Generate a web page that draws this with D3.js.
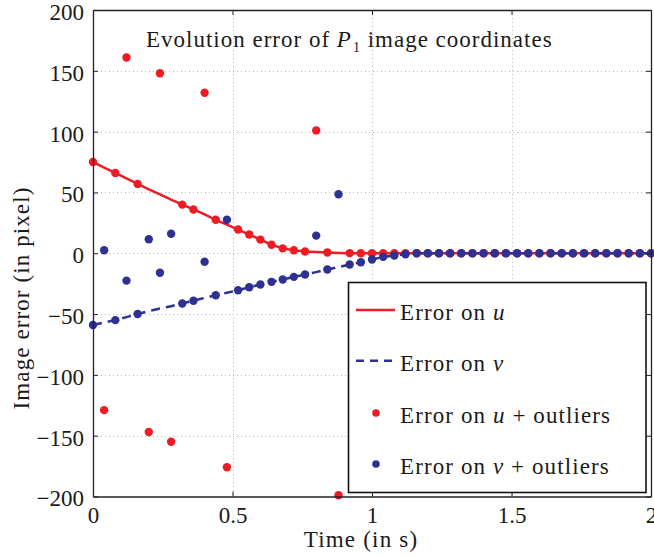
<!DOCTYPE html>
<html><head><meta charset="utf-8">
<script src="https://cdn.jsdelivr.net/npm/d3@7"></script>
<style>
html,body{margin:0;padding:0;background:#fff;}
svg{display:block;font-family:"Liberation Serif","Times New Roman",serif;}
</style></head>
<body><svg id="chart" width="654" height="558"></svg>
<script>
// ---- data ----
const time = [0,0.04,0.08,0.12,0.16,0.2,0.24,0.28,0.32,0.36,0.4,0.44,0.48,0.52,0.56,0.6,0.64,0.68,0.72,0.76,0.8,0.84,0.88,0.92,0.96,1.0,1.04,1.08,1.12,1.16,1.2,1.24,1.28,1.32,1.36,1.4,1.44,1.48,1.52,1.56,1.6,1.64,1.68,1.72,1.76,1.8,1.84,1.88,1.92,1.96,2.0];
const errorU = [75,70.5,66,61.5,57,52.5,48.5,44,40,36,32,27.5,23.5,19.5,15.4,11.2,7,4,2.5,1.4,1,0.6,0.3,0.1,0,0,0,0,0,0,0,0,0,0,0,0,0,0,0,0,0,0,0,0,0,0,0,0,0,0,0];
const errorV = [-59,-57,-55,-52.5,-50,-47.5,-45.5,-43.5,-41.3,-39,-36.7,-34.5,-32.5,-30.4,-28,-25.7,-23.5,-21.6,-19.4,-17.5,-15.5,-13.4,-11.3,-9.3,-7.4,-5.2,-3,-1.9,-0.8,0,0,0,0,0,0,0,0,0,0,0,0,0,0,0,0,0,0,0,0,0,0];
const errorUOutliers = [75,-129,66,161,57,-147,148,-155,40,36,132,27.5,-176,19.5,15.4,11.2,7,4,2.5,1.4,101,0.6,-199,0.1,0,0,0,0,0,0,0,0,0,0,0,0,0,0,0,0,0,0,0,0,0,0,0,0,0,0,0];
const errorVOutliers = [-59,2.5,-55,-22.5,-50,11.5,-16,16,-41.3,-39,-7,-34.5,27.5,-30.4,-28,-25.7,-23.5,-21.6,-19.4,-17.5,14.5,-13.4,48.5,-9.3,-7.4,-5.2,-3,-1.9,-0.8,0,0,0,0,0,0,0,0,0,0,0,0,0,0,0,0,0,0,0,0,0,0];
const xTicks = [0,0.5,1,1.5,2];
const yTicks = [-200,-150,-100,-50,0,50,100,150,200];
const legendLabels = [["Error on ","u",""],["Error on ","v",""],["Error on ","u"," + outliers"],["Error on ","v"," + outliers"]];

// ---- layout ----
const RED = "#ed1c24", BLUE = "#2e3192", INK = "#1a1a1a";
const FONT = "'Liberation Serif','Times New Roman',serif";
const L = 93, T = 10, R = 651, B = 496.5;
const svg = d3.select("#chart");
const x = d3.scaleLinear().domain([0,2]).range([L,R]);
const y = d3.scaleLinear().domain([-200,200]).range([B,T]);

// grid
const grid = svg.append("g").attr("stroke","#b8b8b8").attr("stroke-width",1).attr("stroke-dasharray","1,3");
grid.selectAll(".gx").data(xTicks.slice(1,-1)).join("line")
  .attr("x1",d=>Math.round(x(d))+0.5).attr("x2",d=>Math.round(x(d))+0.5).attr("y1",T).attr("y2",B);
grid.selectAll(".gy").data(yTicks.slice(1,-1)).join("line")
  .attr("y1",d=>Math.round(y(d))+0.5).attr("y2",d=>Math.round(y(d))+0.5).attr("x1",L).attr("x2",R);

// lines
const lineGen = d3.line().x((d,i)=>x(time[i])).y(d=>y(d));
svg.append("path").datum(errorU).attr("d",lineGen).attr("fill","none").attr("stroke",RED).attr("stroke-width",2.5);
svg.append("path").datum(errorV).attr("d",lineGen).attr("fill","none").attr("stroke",BLUE).attr("stroke-width",2.5).attr("stroke-dasharray","9,6");

// dots
svg.append("g").selectAll("circle").data(errorUOutliers).join("circle")
  .attr("cx",(d,i)=>x(time[i])).attr("cy",d=>y(d)).attr("r",4.2).attr("fill",RED);
svg.append("g").selectAll("circle").data(errorVOutliers).join("circle")
  .attr("cx",(d,i)=>x(time[i])).attr("cy",d=>y(d)).attr("r",4.2).attr("fill",BLUE);

// axes (MATLAB style: box, inward ticks)
const axB = d3.axisBottom(x).tickValues(xTicks).tickSizeInner(-5).tickSizeOuter(0).tickPadding(10).tickFormat(d3.format("~g"));
const axT = d3.axisTop(x).tickValues(xTicks).tickSizeInner(-5).tickSizeOuter(0).tickFormat("");
const axL = d3.axisLeft(y).tickValues(yTicks).tickSizeInner(-5).tickSizeOuter(0).tickPadding(9).tickFormat(d3.format("~g"));
const axR = d3.axisRight(y).tickValues(yTicks).tickSizeInner(-5).tickSizeOuter(0).tickFormat("");
function style(g){ g.attr("font-family",null);
  g.selectAll("path").attr("stroke","#222").attr("stroke-width",1.3);
  g.selectAll("line").attr("stroke","#222").attr("stroke-width",1);
  g.selectAll("text").attr("fill",INK).style("font-size","23px").style("font-family",FONT); }
svg.append("g").attr("transform",`translate(0,${B})`).call(axB).call(style);
svg.append("g").attr("transform",`translate(0,${T})`).call(axT).call(style);
svg.append("g").attr("transform",`translate(${L},0)`).call(axL).call(style)
  .selectAll("text").attr("y",2);
svg.append("g").attr("transform",`translate(${R},0)`).call(axR).call(style);

// axis titles
svg.append("text").attr("x",361).attr("y",547).attr("text-anchor","middle")
  .style("font-size","23px").style("font-family",FONT).style("letter-spacing","1.2px").attr("fill",INK).text("Time (in s)");
svg.append("text").attr("transform","translate(29,298) rotate(-90)").attr("text-anchor","middle")
  .style("font-size","23px").style("font-family",FONT).style("letter-spacing","1.1px").attr("fill",INK).text("Image error (in pixel)");

// title inside plot
const tt = svg.append("text").attr("x",146).attr("y",47).style("font-size","23px").style("font-family",FONT).style("letter-spacing","1px").attr("fill",INK);
tt.append("tspan").text("Evolution error of ");
tt.append("tspan").attr("font-style","italic").text("P");
tt.append("tspan").style("font-size","14px").attr("dy",5).attr("dx",1).text("1");
tt.append("tspan").attr("dy",-5).text(" image coordinates");

// legend
const lg = svg.append("g");
lg.append("rect").attr("x",348.5).attr("y",282.5).attr("width",297.5).attr("height",210).attr("fill","#fff").attr("stroke","#111").attr("stroke-width",1.6);
const rowsY = [310,360.7,413,464];
legendLabels.forEach((lab,i)=>{
  const cy = rowsY[i];
  if(i===0) lg.append("line").attr("x1",356).attr("x2",395).attr("y1",cy).attr("y2",cy).attr("stroke",RED).attr("stroke-width",2.5);
  if(i===1) lg.append("line").attr("x1",356).attr("x2",395).attr("y1",cy).attr("y2",cy).attr("stroke",BLUE).attr("stroke-width",2.5).attr("stroke-dasharray","8,6");
  if(i===2) lg.append("circle").attr("cx",376).attr("cy",cy).attr("r",3.8).attr("fill",RED);
  if(i===3) lg.append("circle").attr("cx",376).attr("cy",cy).attr("r",3.8).attr("fill",BLUE);
  const t = lg.append("text").attr("x",400).attr("y",cy+10).style("font-size","23px").style("font-family",FONT).style("letter-spacing","1.1px").attr("fill",INK);
  t.append("tspan").text(lab[0]);
  t.append("tspan").attr("font-style","italic").text(lab[1]);
  if(lab[2]) t.append("tspan").text(lab[2]);
});
</script></body></html>
